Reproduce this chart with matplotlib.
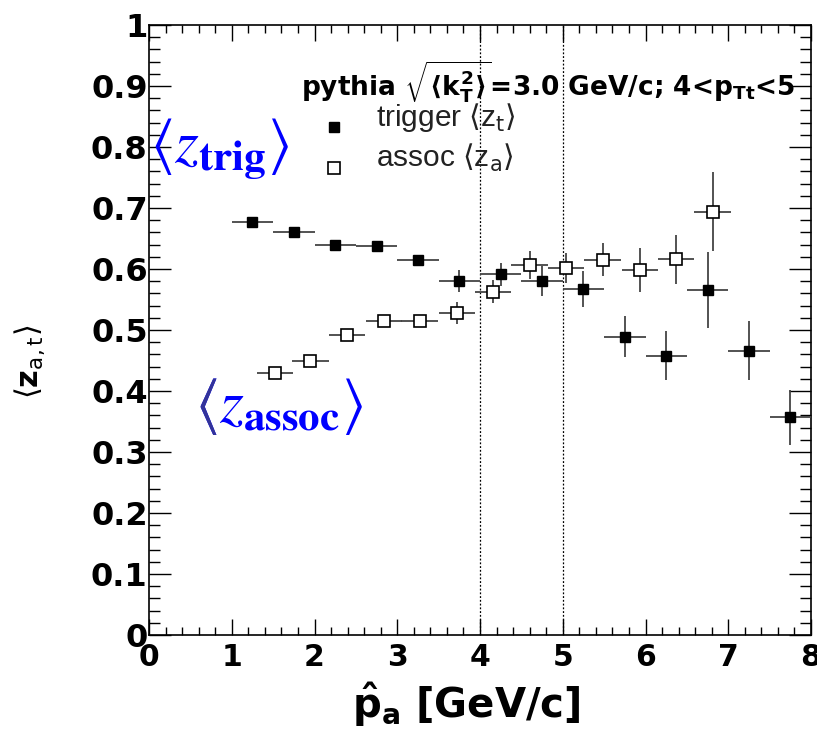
import numpy as np
import matplotlib.pyplot as plt
from matplotlib.ticker import MultipleLocator

# trigger <z_t> (filled squares)
trig_x = [1.25, 1.75, 2.25, 2.75, 3.25, 3.75, 4.25, 4.75, 5.25, 5.75, 6.25, 6.75, 7.25, 7.75]
trig_y = [0.677, 0.661, 0.640, 0.637, 0.614, 0.581, 0.591, 0.580, 0.567, 0.489, 0.458, 0.566, 0.466, 0.357]
trig_ey = [0.004, 0.004, 0.005, 0.006, 0.008, 0.018, 0.019, 0.025, 0.030, 0.034, 0.040, 0.062, 0.048, 0.045]
trig_ex = 0.25

# assoc <z_a> (open squares)
asso_x = [1.52, 1.95, 2.39, 2.84, 3.27, 3.72, 4.16, 4.60, 5.04, 5.48, 5.93, 6.37, 6.81]
asso_y = [0.430, 0.449, 0.492, 0.514, 0.514, 0.528, 0.563, 0.607, 0.602, 0.615, 0.598, 0.616, 0.694]
asso_ey = [0.004, 0.005, 0.006, 0.007, 0.008, 0.018, 0.019, 0.023, 0.025, 0.027, 0.036, 0.040, 0.065]
asso_ex = 0.22

ytick_labels = ['0', '0.1', '0.2', '0.3', '0.4', '0.5', '0.6', '0.7', '0.8', '0.9', '1']

plt.rcParams['mathtext.fontset'] = 'custom'
plt.rcParams['mathtext.rm'] = 'DejaVu Sans:bold'
plt.rcParams['mathtext.it'] = 'DejaVu Sans:bold'
plt.rcParams['mathtext.bf'] = 'DejaVu Sans:bold'
plt.rcParams['font.family'] = ['DejaVu Sans']

fig = plt.figure(figsize=(8.17, 7.31), dpi=100)
ax = fig.add_axes([0.1824, 0.1313, 0.8103, 0.8345])

ax.errorbar(trig_x, trig_y, yerr=trig_ey, xerr=trig_ex, fmt='s', color='black',
            ecolor='#444444', elinewidth=1.3, ms=7.5, capsize=0, zorder=3)
ax.errorbar(asso_x, asso_y, yerr=asso_ey, xerr=asso_ex, fmt='s', color='black',
            mfc='white', mec='black', mew=1.2, ecolor='#444444', elinewidth=1.3,
            ms=8.5, capsize=0, zorder=3)

for xv in [4, 5]:
    ax.axvline(xv, color='black', ls=(0, (1.5, 1.5)), lw=0.9, zorder=1)

ax.set_xlim(0, 8)
ax.set_ylim(0, 1)
ax.xaxis.set_major_locator(MultipleLocator(1))
ax.xaxis.set_minor_locator(MultipleLocator(0.2))
ax.yaxis.set_minor_locator(MultipleLocator(0.02))
ax.set_yticks(np.arange(0, 1.01, 0.1))
ax.set_yticklabels(ytick_labels)
ax.tick_params(which='both', direction='in', top=True, right=True, width=1.0)
ax.tick_params(axis='x', which='major', length=11.5, labelsize=21.5, pad=6)
ax.tick_params(axis='x', which='minor', length=5.8)
ax.tick_params(axis='y', which='major', length=16, labelsize=23, pad=1)
ax.tick_params(axis='y', which='minor', length=8)
for lab in ax.get_xticklabels() + ax.get_yticklabels():
    lab.set_fontweight('bold')
for sp in ax.spines.values():
    sp.set_linewidth(1.2)

ax.set_xlabel(r'$\hat{p}_{a}$ [GeV/c]', fontsize=29, fontweight='bold', labelpad=0)
ax.xaxis.set_label_coords(0.48, -0.075)
fig.text(0.037, 0.505, r'$\langle$z$_{\mathrm{a,t}}\rangle$', rotation=90, fontsize=22,
         fontweight='bold', ha='center', va='center', math_fontfamily='dejavusans')

# header
ax.text(1.84, 0.885, r'pythia $\sqrt{\langle k_T^2\rangle}$=3.0 GeV/c; 4<p$_{Tt}$<5',
        fontsize=19, fontweight='bold', ha='left', va='baseline')
# legend entries
ax.plot([2.24], [0.833], 's', color='black', ms=7.5)
ax.plot([2.24], [0.766], 's', mfc='white', mec='black', mew=1.2, ms=8.5)
ax.text(2.74, 0.834, r'trigger $\langle$z$_{\mathrm{t}}\rangle$', fontsize=21.5, color='#222222',
        family='Liberation Sans', ha='left', va='baseline', math_fontfamily='dejavusans')
ax.text(2.74, 0.767, r'assoc $\langle$z$_{\mathrm{a}}\rangle$', fontsize=21.5, color='#222222',
        family='Liberation Sans', ha='left', va='baseline', math_fontfamily='dejavusans')

# blue annotations
ax.text(0.01, 0.775, r'$\langle z_{\mathbf{trig}}\rangle$', fontsize=44, color='#0000ff',
        ha='left', va='baseline', math_fontfamily='stix')
ax.text(0.55, 0.350, r'$\langle z_{\mathbf{assoc}}\rangle$', fontsize=44, color='#0000ff',
        ha='left', va='baseline', math_fontfamily='stix')
ax.text(0.55, 0.350, r'$\langle$', fontsize=44, color='#333399',
        ha='left', va='baseline', math_fontfamily='stix', zorder=4)

fig.savefig('out.png', dpi=100)
